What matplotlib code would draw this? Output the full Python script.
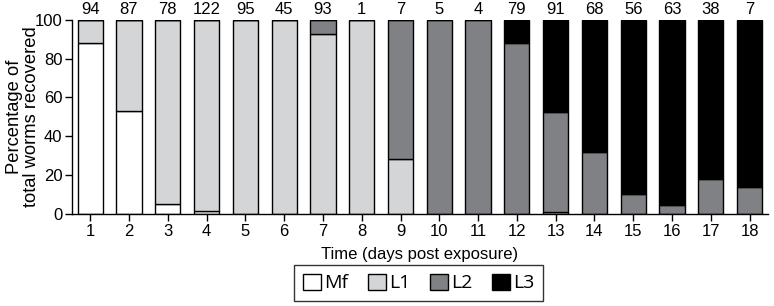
import numpy as np
import matplotlib
matplotlib.use("Agg")
import matplotlib.pyplot as plt
from matplotlib.patches import Patch

plt.rcParams['font.family'] = ['Liberation Sans', 'DejaVu Sans']

days = list(range(1, 19))
counts = [94, 87, 78, 122, 95, 45, 93, 1, 7, 5, 4, 79, 91, 68, 56, 63, 38, 7]
mf = [88.3, 52.8, 4.9, 1.5, 0, 0, 0, 0, 0, 0, 0, 0, 0, 0, 0, 0, 0, 0]
l1 = [11.7, 47.2, 95.1, 98.5, 100, 100, 92.8, 100, 28.5, 0, 0, 0, 1.1, 0, 0, 0, 0, 0]
l2 = [0, 0, 0, 0, 0, 0, 7.2, 0, 71.5, 100, 100, 88.3, 51.2, 32.1, 10.3, 4.4, 18.0, 13.9]
l3 = [0, 0, 0, 0, 0, 0, 0, 0, 0, 0, 0, 11.7, 47.7, 67.9, 89.7, 95.6, 82.0, 86.1]

stages = ["Mf", "L1", "L2", "L3"]
colors = ["#ffffff", "#d4d5d7", "#808184", "#000000"]

fig = plt.figure(figsize=(7.74, 3.06), dpi=100)
ax = fig.add_axes([0.093, 0.301, 0.899, 0.634])

bottom = np.zeros(len(days))
for vals, col in zip([mf, l1, l2, l3], colors):
    vals = np.array(vals)
    ax.bar(days, vals, bottom=bottom, width=0.65, color=col,
           edgecolor="black", linewidth=1.0)
    bottom += vals

for d, c in zip(days, counts):
    ax.text(d, 101.5, str(c), ha="center", va="bottom", fontsize=12)

ax.set_xlim(0.53, 18.47)
ax.set_ylim(0, 100)
ax.set_xticks(days)
ax.set_yticks(range(0, 101, 20))
ax.tick_params(labelsize=12, width=1, length=5, pad=2)
ax.spines["top"].set_visible(False)
ax.spines["right"].set_visible(False)
ax.spines["left"].set_linewidth(1)
ax.spines["bottom"].set_linewidth(1)
ax.set_xlabel("Time (days post exposure)", fontsize=12, labelpad=6)
ax.set_ylabel("Percentage of\ntotal worms recovered", fontsize=13.2,
              linespacing=1.0)
ax.yaxis.set_label_coords(-0.046, 0.5)

handles = [Patch(facecolor=c, edgecolor="black", linewidth=1, label=s)
           for s, c in zip(stages, colors)]
fig.legend(handles=handles, loc="lower center", bbox_to_anchor=(0.541, 0.016),
           ncol=4, frameon=True, fancybox=False, edgecolor="black",
           prop={"family": "Open Sans", "size": 14}, handlelength=0.95,
           handleheight=0.9, handletextpad=0.15, columnspacing=1.0,
           borderpad=0.45, borderaxespad=0)

fig.savefig("out.png", dpi=100)
